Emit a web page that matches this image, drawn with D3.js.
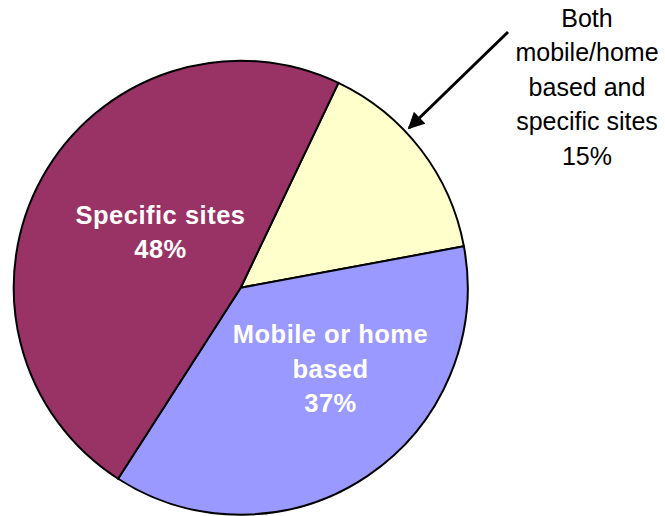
<!DOCTYPE html>
<html>
<head>
<meta charset="utf-8">
<script src="https://cdn.jsdelivr.net/npm/d3@7"></script>
<style>
  html, body { margin: 0; padding: 0; background: #fff; }
  svg { display: block; }
</style>
</head>
<body>
<svg id="chart" width="665" height="516"></svg>
<script>
// Share of work locations
const categories = ["Both mobile/home based and specific sites", "Mobile or home based", "Specific sites"];
const values = [15, 37, 48];
const colors = ["#FFFFCC", "#9999FF", "#993366"];
const labelLines = [
  ["Both", "mobile/home", "based and", "specific sites"],
  ["Mobile or home", "based"],
  ["Specific sites"]
];

const W = 665, H = 516;
const cx = 240.7, cy = 287.7, R = 227;
const startDeg = 25.5;

const svg = d3.select("#chart");
const g = svg.append("g").attr("transform", `translate(${cx},${cy})`);

const rows = categories.map((c, i) => ({ name: c, value: values[i], color: colors[i], lines: labelLines[i] }));

const pie = d3.pie()
  .sort(null)
  .value(d => d.value)
  .startAngle(startDeg * Math.PI / 180)
  .endAngle(startDeg * Math.PI / 180 + 2 * Math.PI);

const arc = d3.arc().innerRadius(0).outerRadius(R);
const arcs = pie(rows);

g.selectAll("path.slice")
  .data(arcs)
  .join("path")
  .attr("class", "slice")
  .attr("d", arc)
  .attr("fill", d => d.data.color)
  .attr("stroke", "#000")
  .attr("stroke-width", 2)
  .attr("stroke-linejoin", "round");

// Label anchors (centre x, first baseline y) for each slice
const labelPos = [
  { x: 587, y: 27, inside: false },
  { x: 330.5, y: 343.3, inside: true },
  { x: 160.5, y: 224, inside: true }
];
const lineGap = 34.4;

arcs.forEach((a, i) => {
  const p = labelPos[i];
  const lines = a.data.lines.concat([a.data.value + "%"]);
  const t = svg.append("text")
    .attr("text-anchor", "middle")
    .attr("font-family", "Arial, 'Liberation Sans', sans-serif")
    .attr("font-size", p.inside ? 25.5 : 25)
    .attr("font-weight", p.inside ? "bold" : "normal")
    .attr("letter-spacing", p.inside ? 0.5 : 0)
    .attr("fill", p.inside ? "#fff" : "#000");
  lines.forEach((ln, k) => {
    t.append("tspan").attr("x", p.x).attr("y", p.y + k * lineGap).text(ln);
  });
});

// Callout arrow for the small slice
const defs = svg.append("defs");
defs.append("marker")
  .attr("id", "arrowhead")
  .attr("viewBox", "0 0 10 10")
  .attr("refX", 9)
  .attr("refY", 5)
  .attr("markerWidth", 6)
  .attr("markerHeight", 5.5)
  .attr("markerUnits", "strokeWidth")
  .attr("orient", "auto")
  .append("path")
  .attr("d", "M0,0 L10,5 L0,10 Z")
  .attr("fill", "#000");

svg.append("line")
  .attr("x1", 508).attr("y1", 32)
  .attr("x2", 409).attr("y2", 128)
  .attr("stroke", "#000")
  .attr("stroke-width", 3)
  .attr("marker-end", "url(#arrowhead)");
</script>
</body>
</html>
